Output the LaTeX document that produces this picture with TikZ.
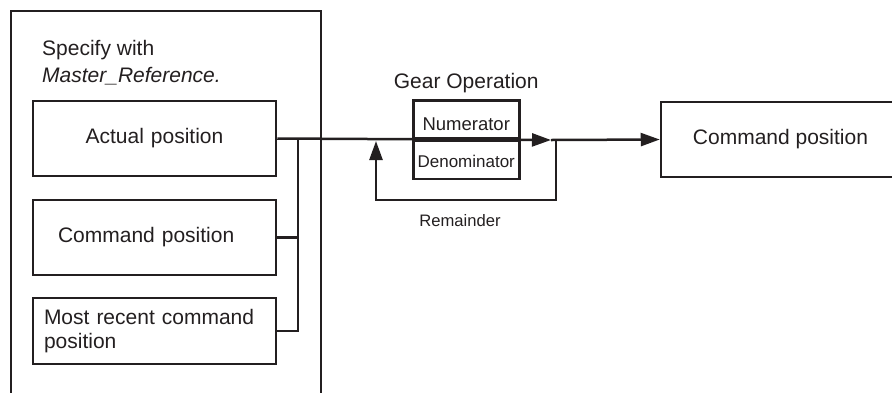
\documentclass[tikz,border=0pt]{standalone}
\usepackage{fontspec}
\setmainfont{Liberation Sans}
\usetikzlibrary{arrows.meta,positioning}
\definecolor{ink}{HTML}{231F20}
\begin{document}
\begin{tikzpicture}[x=1pt,y=-1pt,
  every node/.style={text=ink},
  conn/.style={draw=ink,line width=2.5pt},
  box/.style={draw=ink,line width=2.5pt,rectangle,inner sep=0pt,minimum width=243pt,minimum height=75pt,font=\fontsize{21}{24}\selectfont},
  gcell/.style={draw=ink,line width=2.5pt,rectangle,inner sep=0pt,minimum width=106pt,minimum height=38pt},
  tip/.style={-{Triangle[length=19pt,width=13pt]}}
]
\useasboundingbox (0,0) rectangle (892,392);
\clip (0,0) rectangle (892,392);

% outer container
\node[draw=ink,line width=2.5pt,rectangle,inner sep=0pt,minimum width=310pt,minimum height=400pt] (outer) at (166,211) {};
\node[anchor=north west,align=left,inner sep=0pt,font=\fontsize{21}{27}\selectfont] (spec) at (42,40) {Specify with\\\textit{Master\_Reference.}};

% source boxes
\node[box,text width=243pt,align=center] (actual) at (154.5,138.5) {Actual position};
\node[box,text width=243pt,align=left] (cmdL) at (154.5,237.5) {\hspace*{25pt}Command position};
\node[box,minimum height=66pt,text width=243pt,align=left,font=\fontsize{21}{24}\selectfont] (recent) at (154.5,331) {\hspace*{11pt}Most recent command\\\hspace*{11pt}position};

% gear operation
\node[gcell,anchor=south west,font=\fontsize{18.5}{20}\selectfont,text height=22pt,text depth=0pt] (num) at (412,139.5) {Numerator};
\node[gcell,anchor=north west,font=\fontsize{17}{20}\selectfont,text height=15pt,text depth=0pt] (den) at (412,139.5) {Denominator};
\node[above=6pt of num,inner sep=0pt,font=\fontsize{21}{24}\selectfont] (gearlbl) {Gear Operation};

% destination box
\node[box,minimum width=239pt,minimum height=75pt] (cmdR) at (780.5,139.5) {Command position};

% connectors
\coordinate (j) at (298,140);
\coordinate (arrA) at (551,140);
\coordinate (fbR) at (556,140);
\coordinate (fbRb) at (556,200);
\coordinate (fbLb) at (376,200);
\coordinate (fbL) at (376,141);

\draw[conn] (cmdL.east) -| (j);
\draw[conn] (recent.east) -| (j);
\draw[conn,tip] (actual.east) -- (arrA);
\draw[conn,tip] (arrA) -- (cmdR.west);
\draw[conn,tip] (fbR) -- (fbRb) -- (fbLb) -- (fbL);

\node[font=\fontsize{16.6}{20}\selectfont,inner sep=0pt] (rem) at (460,221) {Remainder};
\end{tikzpicture}
\end{document}
